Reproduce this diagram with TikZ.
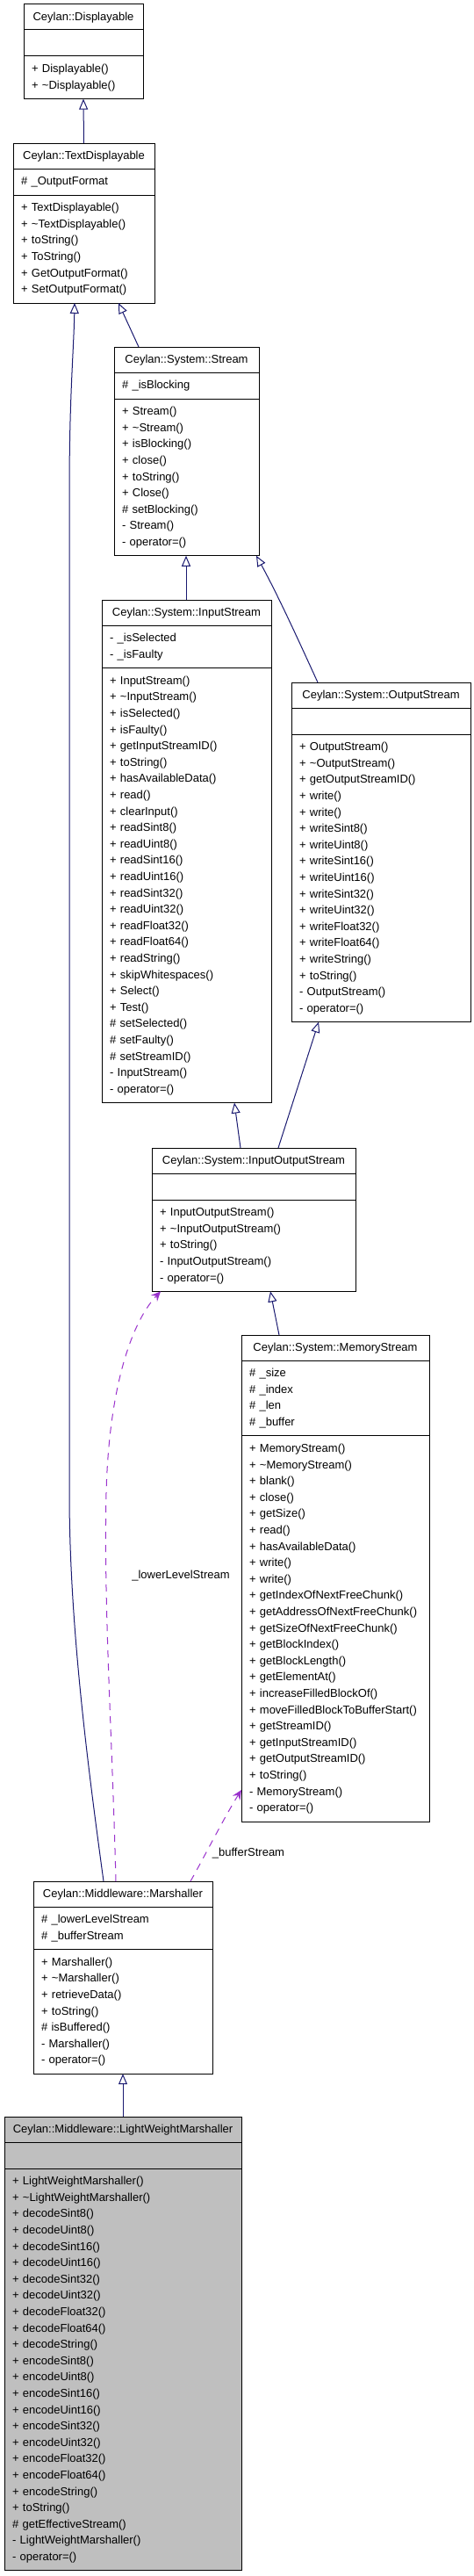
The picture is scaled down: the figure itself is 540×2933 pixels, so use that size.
\documentclass[tikz,border=0pt]{standalone}
\usepackage{fontspec}
\setmainfont{Liberation Sans}
\usetikzlibrary{positioning,arrows.meta}
\definecolor{edgeblue}{HTML}{191970}
\definecolor{usepurple}{HTML}{9A32CD}
\definecolor{lwgray}{HTML}{BFBFBF}
\tikzset{
	classtitle/.style={draw,line width=1pt,outer sep=0pt,inner xsep=9pt,inner ysep=5.2pt,align=center,anchor=north west,
		execute at begin node=\strut},
	classpart/.style={draw,line width=1pt,outer sep=0pt,inner xsep=9pt,inner ysep=5.7pt,align=left,
		execute at begin node=\strut,execute at end node=\strut},
	inherit/.style={draw=edgeblue,line width=1pt,-{Triangle[open,length=12pt,width=10pt]}},
	uses/.style={draw=usepurple,line width=1pt,dash pattern=on 8pt off 7pt,-{Stealth[length=11pt,width=10pt,inset=4pt]}}
}
\newcommand{\umlclass}[7][]{
	\node[classtitle,text width=#4,#1] (#2) at #3 {#5};
	\node[classpart,text width=#4,#1,below=0pt of #2] (#2-a) {#6};
	\node[classpart,text width=#4,#1,below=0pt of #2-a] (#2-m) {#7};
}
\begin{document}
\begin{tikzpicture}[x=1pt,y=-1pt,every node/.style={font=\fontsize{13}{18.6}\selectfont}]
\fill[white] (0,0) rectangle (540,2933);
\useasboundingbox (0,0) rectangle (540,2933);
\umlclass{disp}{(27,5)}{118pt}{Ceylan::Displayable}{}{+ Displayable()\\+ \textasciitilde Displayable()}
\umlclass{textdisp}{(15,163)}{143pt}{Ceylan::TextDisplayable}{\# \_OutputFormat}{+ TextDisplayable()\\+ \textasciitilde TextDisplayable()\\+ toString()\\+ ToString()\\+ GetOutputFormat()\\+ SetOutputFormat()}
\umlclass{stream}{(130,395)}{147pt}{Ceylan::System::Stream}{\# \_isBlocking}{+ Stream()\\+ \textasciitilde Stream()\\+ isBlocking()\\+ close()\\+ toString()\\+ Close()\\\# setBlocking()\\- Stream()\\- operator=()}
\umlclass{instream}{(116,683)}{175pt}{Ceylan::System::InputStream}{- \_isSelected\\- \_isFaulty}{+ InputStream()\\+ \textasciitilde InputStream()\\+ isSelected()\\+ isFaulty()\\+ getInputStreamID()\\+ toString()\\+ hasAvailableData()\\+ read()\\+ clearInput()\\+ readSint8()\\+ readUint8()\\+ readSint16()\\+ readUint16()\\+ readSint32()\\+ readUint32()\\+ readFloat32()\\+ readFloat64()\\+ readString()\\+ skipWhitespaces()\\+ Select()\\+ Test()\\\# setSelected()\\\# setFaulty()\\\# setStreamID()\\- InputStream()\\- operator=()}
\umlclass{outstream}{(332,777)}{186pt}{Ceylan::System::OutputStream}{}{+ OutputStream()\\+ \textasciitilde OutputStream()\\+ getOutputStreamID()\\+ write()\\+ write()\\+ writeSint8()\\+ writeUint8()\\+ writeSint16()\\+ writeUint16()\\+ writeSint32()\\+ writeUint32()\\+ writeFloat32()\\+ writeFloat64()\\+ writeString()\\+ toString()\\- OutputStream()\\- operator=()}
\umlclass{iostream}{(173,1307)}{214pt}{Ceylan::System::InputOutputStream}{}{+ InputOutputStream()\\+ \textasciitilde InputOutputStream()\\+ toString()\\- InputOutputStream()\\- operator=()}
\umlclass{memstream}{(275,1520)}{196pt}{Ceylan::System::MemoryStream}{\# \_size\\\# \_index\\\# \_len\\\# \_buffer}{+ MemoryStream()\\+ \textasciitilde MemoryStream()\\+ blank()\\+ close()\\+ getSize()\\+ read()\\+ hasAvailableData()\\+ write()\\+ write()\\+ getIndexOfNextFreeChunk()\\+ getAddressOfNextFreeChunk()\\+ getSizeOfNextFreeChunk()\\+ getBlockIndex()\\+ getBlockLength()\\+ getElementAt()\\+ increaseFilledBlockOf()\\+ moveFilledBlockToBufferStart()\\+ getStreamID()\\+ getInputStreamID()\\+ getOutputStreamID()\\+ toString()\\- MemoryStream()\\- operator=()}
\umlclass{marshaller}{(38,2142)}{186pt}{Ceylan::Middleware::Marshaller}{\# \_lowerLevelStream\\\# \_bufferStream}{+ Marshaller()\\+ \textasciitilde Marshaller()\\+ retrieveData()\\+ toString()\\\# isBuffered()\\- Marshaller()\\- operator=()}
\umlclass[fill=lwgray]{lwm}{(5,2410)}{252pt}{Ceylan::Middleware::LightWeightMarshaller}{}{+ LightWeightMarshaller()\\+ \textasciitilde LightWeightMarshaller()\\+ decodeSint8()\\+ decodeUint8()\\+ decodeSint16()\\+ decodeUint16()\\+ decodeSint32()\\+ decodeUint32()\\+ decodeFloat32()\\+ decodeFloat64()\\+ decodeString()\\+ encodeSint8()\\+ encodeUint8()\\+ encodeSint16()\\+ encodeUint16()\\+ encodeSint32()\\+ encodeUint32()\\+ encodeFloat32()\\+ encodeFloat64()\\+ encodeString()\\+ toString()\\\# getEffectiveStream()\\- LightWeightMarshaller()\\- operator=()}
\draw[inherit] (textdisp.north) -- (disp-m.south);
\draw[inherit] ([xshift=28pt]stream.north west) -- ([xshift=120pt]textdisp-m.south west);
\draw[inherit] ([xshift=80pt]marshaller.north west) .. controls (100,2010) and (79,1850) .. (79,1700) -- (79,560) .. controls (79,450) and (84,400) .. ([xshift=70pt]textdisp-m.south west);
\draw[inherit] ([xshift=96pt]instream.north west) -- ([xshift=82pt]stream-m.south west);
\draw[inherit] ([xshift=30pt]outstream.north west) .. controls (345,740) and (318,680) .. ([xshift=162pt]stream-m.south west);
\draw[inherit] ([xshift=101pt]iostream.north west) -- ([xshift=151pt]instream-m.south west);
\draw[inherit] ([xshift=144pt]iostream.north west) -- ([xshift=31pt]outstream-m.south west);
\draw[inherit] ([xshift=43pt]memstream.north west) -- ([xshift=135pt]iostream-m.south west);
\draw[inherit] (lwm.north) -- (marshaller-m.south);
\draw[uses] ([xshift=94pt]marshaller.north west) .. controls (128,1980) and (118,1830) .. (121,1700) .. controls (124,1580) and (150,1505) .. ([xshift=10pt]iostream-m.south west);
\draw[uses] ([xshift=179pt]marshaller.north west) .. controls (235,2110) and (255,2070) .. ([yshift=36pt]memstream-m.south west);
\node (lowlabel) at (206,1794) {\_lowerLevelStream};
\node (buflabel) at (283,2110) {\_bufferStream};
\end{tikzpicture}
\end{document}
